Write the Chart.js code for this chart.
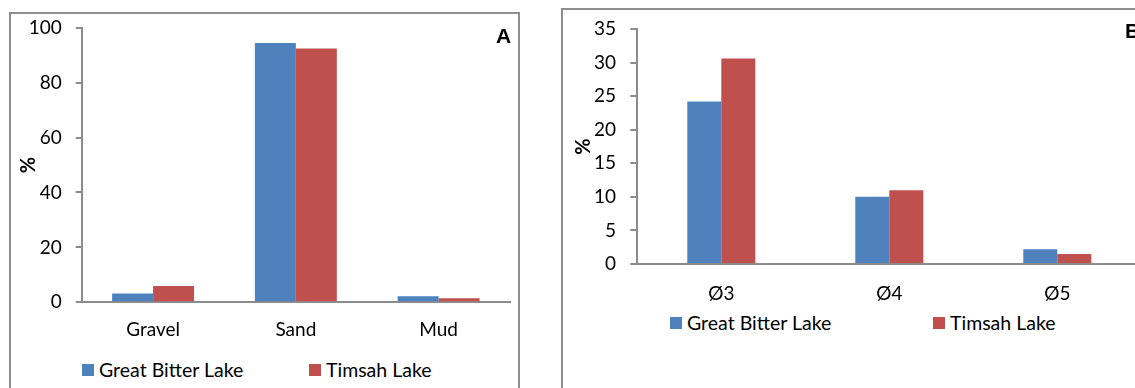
<!DOCTYPE html>
<html lang="en">
<head>
<meta charset="UTF-8">
<title>Grain size - Great Bitter Lake / Timsah Lake</title>
<script src="https://cdn.jsdelivr.net/npm/chart.js"></script>
<style>
  html, body { margin: 0; padding: 0; background: #fff; overflow: hidden; width: 1135px; height: 388px; }
  .frame { position: absolute; border: 2px solid #8e8e8e; box-sizing: border-box; }
  #frameA { left: 9px; top: 12px; width: 511px; height: 420px; }
  #frameB { left: 561px; top: 8px; width: 620px; height: 420px; }
  canvas { position: absolute; }
  .panel { position: absolute; font: bold 21px "Liberation Sans", Arial, sans-serif; line-height: 21px; color: #000; }
  .legend-item { position: absolute; font: 19.5px Lato, sans-serif; line-height: 20px; height: 20px; display: flex; align-items: center; white-space: nowrap; color: #000; }
  .legend-item i { display: inline-block; width: 12px; height: 12px; margin-right: 5px; }
</style>
</head>
<body>
  <div class="frame" id="frameA"></div>
  <div class="frame" id="frameB"></div>

  <canvas id="chartA" width="506" height="331" style="left:12px; top:14px;"></canvas>
  <canvas id="chartB" width="587" height="299" style="left:564px; top:11px;"></canvas>

  <div class="panel" style="left:496px; top:25px;">A</div>
  <div class="panel" style="left:1125px; top:20px;">B</div>

  <div id="legendA"></div>
  <div id="legendB"></div>

<script>
  // series
  const seriesNames = ['Great Bitter Lake', 'Timsah Lake'];
  const seriesColors = ['#4F81BD', '#C0504D'];

  // panel A - sediment texture
  const textureCats = ['Gravel', 'Sand', 'Mud'];
  const textureGreatBitter = [3.2, 94.4, 2.2];
  const textureTimsah = [5.9, 92.4, 1.5];
  const textureTicks = [0, 20, 40, 60, 80, 100];

  // panel B - phi classes
  const phiCats = ['Ø3', 'Ø4', 'Ø5'];
  const phiGreatBitter = [24.2, 10.0, 2.2];
  const phiTimsah = [30.6, 11.0, 1.5];
  const phiTicks = [0, 5, 10, 15, 20, 25, 30, 35];

  const axisGray = '#8c8c8c';
  Chart.defaults.font.family = 'Lato, sans-serif';

  function buildChart(id, cats, a, b, ticks, geo) {
    return new Chart(document.getElementById(id), {
      type: 'bar',
      data: {
        labels: cats,
        datasets: [
          { label: seriesNames[0], data: a, backgroundColor: seriesColors[0], barPercentage: 1, categoryPercentage: geo.catPct },
          { label: seriesNames[1], data: b, backgroundColor: seriesColors[1], barPercentage: 1, categoryPercentage: geo.catPct }
        ]
      },
      options: {
        responsive: false,
        animation: false,
        layout: { padding: { left: 0, top: geo.padTop, right: geo.padRight, bottom: 0 } },
        plugins: { legend: { display: false }, tooltip: { enabled: false } },
        scales: {
          x: {
            grid: { display: false, drawTicks: false },
            border: { display: true, color: axisGray, width: 2 },
            ticks: { color: '#000', font: { size: 19 }, padding: geo.xPad },
            afterFit: s => { s.height = geo.xHeight; }
          },
          y: {
            min: ticks[0],
            max: ticks[ticks.length - 1],
            afterBuildTicks: s => { s.ticks = ticks.map(v => ({ value: v })); },
            grid: { drawOnChartArea: false, drawTicks: true, tickLength: geo.tickLen, color: axisGray, lineWidth: 2 },
            border: { display: true, color: axisGray, width: 2 },
            ticks: { color: '#000', font: { size: 19 }, padding: geo.yPad },
            title: { display: true, text: '%', color: '#000', font: { size: 20, weight: 'bold' }, padding: { top: geo.titlePad, bottom: 0 } },
            afterFit: s => {
              s.width = geo.yWidth;
              s.paddingTop = 0;
              s.paddingBottom = 0;
            }
          }
        }
      }
    });
  }

  function buildLegend(id, top, lefts) {
    const box = document.getElementById(id);
    seriesNames.forEach((name, i) => {
      const item = document.createElement('div');
      item.className = 'legend-item';
      item.style.left = lefts[i] + 'px';
      item.style.top = top + 'px';
      item.innerHTML = '<i style="background:' + seriesColors[i] + '"></i>' + name;
      box.appendChild(item);
    });
  }

  buildChart('chartA', textureCats, textureGreatBitter, textureTimsah, textureTicks, {
    padTop: 13.7, padRight: 8, catPct: 0.574, xHeight: 42.7, xPad: 16.3,
    yWidth: 69.7, yPad: 14, tickLen: 6, titlePad: 4.6
  });
  buildChart('chartB', phiCats, phiGreatBitter, phiTimsah, phiTicks, {
    padTop: 18, padRight: 9.7, catPct: 0.405, xHeight: 46, xPad: 18.1,
    yWidth: 73.3, yPad: 14.3, tickLen: 7, titlePad: 7.6
  });

  buildLegend('legendA', 360, [82, 309]);
  buildLegend('legendB', 312.5, [670, 933]);
</script>
</body>
</html>
